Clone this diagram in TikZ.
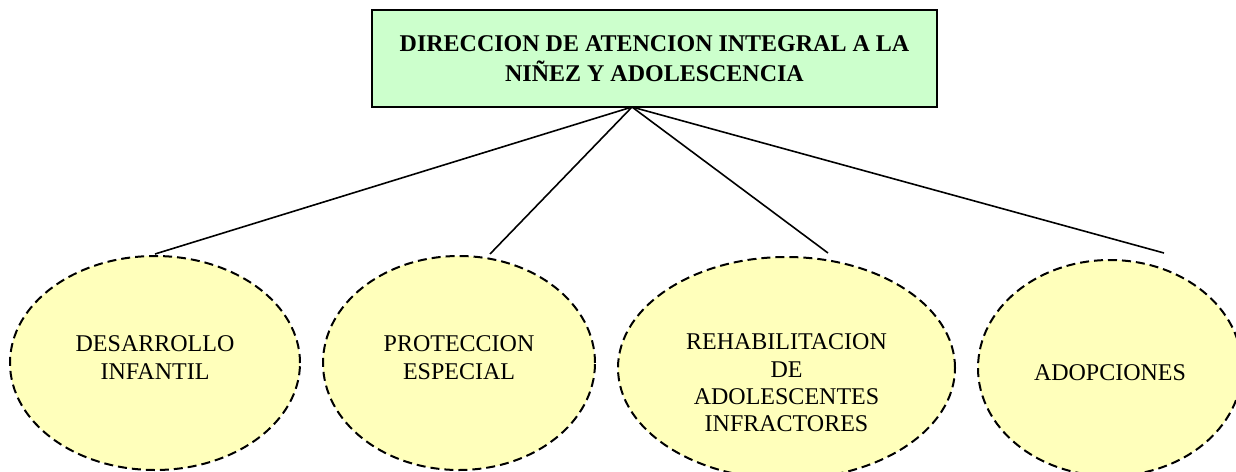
\documentclass[tikz,border=0pt]{standalone}
\usepackage{fontspec}
\setmainfont{Liberation Serif}
\usetikzlibrary{positioning,shapes.geometric}
\definecolor{headgreen}{HTML}{CCFFCC}
\definecolor{unityellow}{HTML}{FFFFBB}
\tikzset{
    head/.style={draw, thick, fill=headgreen, minimum width=282.5pt,
      minimum height=48.5pt, inner sep=0pt, align=center,
      font=\bfseries\fontsize{12}{15}\selectfont},
    unit/.style={ellipse, draw, line width=1pt, dash pattern=on 4.5pt off 2.5pt,
      fill=unityellow, inner sep=0pt},
    unittext/.style={inner sep=0pt, align=center,
      font=\fontsize{12}{13.7}\selectfont},
    link/.style={thick}
}

\begin{document}
\begin{tikzpicture}[x=0.5pt, y=-0.5pt]
    \useasboundingbox (0,0) rectangle (1236,471);
    % head
    \node[head] (dir) at (654.5,58.5) {DIRECCION DE ATENCION INTEGRAL A LA\\ NIÑEZ Y ADOLESCENCIA};
    \coordinate (hub) at (632,107);
    % units
    \node[unit, minimum width=145pt, minimum height=107pt,
      label={[unittext, yshift=2.75pt]center:{DESARROLLO\\ INFANTIL}}] (des) at (155,363) {};
    \node[unit, minimum width=136pt, minimum height=107pt,
      label={[unittext, yshift=2.75pt]center:{PROTECCION\\ ESPECIAL}}] (pro) at (459,363) {};
    \node[unit, minimum width=168.5pt, minimum height=111pt,
      label={[unittext, yshift=-7.5pt]center:{REHABILITACION\\ DE\\ ADOLESCENTES\\ INFRACTORES}}] (reh) at (786.5,368) {};
    \node[unit, minimum width=132pt, minimum height=108pt,
      label={[unittext, yshift=-2.5pt]center:{ADOPCIONES}}] (ado) at (1110,368) {};
    % free ends of the links
    \coordinate (desend) at (155,254);
    \coordinate (proend) at (490,254);
    \coordinate (rehend) at (828,253);
    \coordinate (adoend) at (1164,253);
    \foreach \n in {desend,proend,rehend,adoend}
      \draw[link] (hub) -- (\n);
\end{tikzpicture}
\end{document}
